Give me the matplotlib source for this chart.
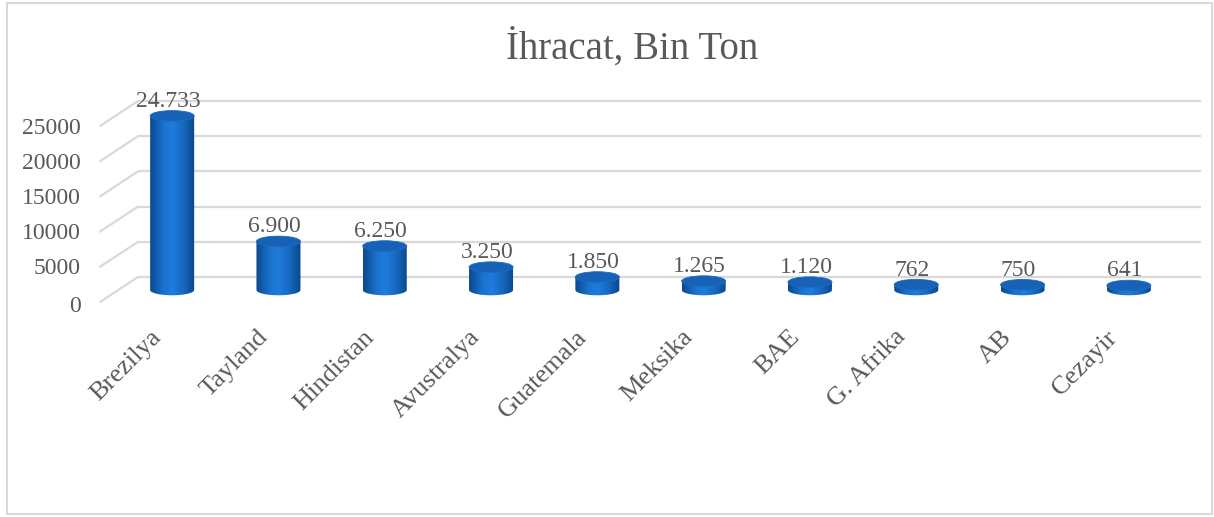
import numpy as np
import matplotlib
matplotlib.use("Agg")
import matplotlib.pyplot as plt
from matplotlib.patches import Ellipse, PathPatch, Rectangle, ConnectionPatch
from matplotlib.path import Path
from matplotlib.transforms import offset_copy
from matplotlib.colors import to_rgb

# data
countries = ["Brezilya", "Tayland", "Hindistan", "Avustralya", "Guatemala",
             "Meksika", "BAE", "G. Afrika", "AB", "Cezayir"]
export = [24733, 6900, 6250, 3250, 1850, 1265, 1120, 762, 750, 641]
value_labels = ["24.733", "6.900", "6.250", "3.250", "1.850",
                "1.265", "1.120", "762", "750", "641"]
yticks = [0, 5000, 10000, 15000, 20000, 25000]

TEXT = "#595959"
GRID = "#d9d9d9"
FONT = "Liberation Serif"

W, H = 1214, 517
fig = plt.figure(figsize=(W / 100, H / 100), dpi=100)
fig.patch.set_facecolor("white")

# chart area border
fig.add_artist(Rectangle((7 / W, 3 / H), 1205 / W, 511 / H, transform=fig.transFigure,
                         fill=False, edgecolor="#d9d9d9", lw=1.5))

# bar plane: x=-0.5 -> px 119, x=9.5 -> px 1182 ; y=0 -> px 290, 25000 -> px 114
ymin, ymax = -1000, 25000
ppu = 176 / 25000
bottom_px = 290 + (-ymin) * ppu
ax = fig.add_axes([119 / W, (H - bottom_px) / H, 1063 / W, (bottom_px - 114) / H])
ax.set_xlim(-0.5, 9.5)
ax.set_ylim(ymin, ymax)
ax.axis("off")

# fake 3d: back wall and front edge are shifted copies of the data plane
back = offset_copy(ax.transData, fig=fig, x=19, y=13, units="dots")
front = offset_copy(ax.transData, fig=fig, x=-19, y=-12, units="dots")

for t in yticks:
    ax.plot([-0.5, 9.5], [t, t], transform=back, color=GRID, lw=1.6,
            clip_on=False, zorder=0, solid_capstyle="butt")
    cp = ConnectionPatch(xyA=(-0.5, t), coordsA=front, xyB=(-0.5, t), coordsB=back,
                         color=GRID, lw=1.6, zorder=0)
    fig.add_artist(cp)
    lab_tr = offset_copy(ax.transData, fig=fig, x=-38, y=-17 if t == 0 else -14, units="dots")
    ax.text(-0.5, t, str(t), transform=lab_tr, ha="right", va="center",
            fontsize=17, color=TEXT, family=FONT)

# cylinders
bw = 0.414
eh = 1500
stops = [0.0, 0.3, 0.5, 0.75, 1.0]
cols = ["#0b4a90", "#1a72cc", "#1f7cdc", "#1668c0", "#0a4789"]
xs = np.linspace(0, 1, 64)
grad = np.stack([np.interp(xs, stops, [to_rgb(c)[k] for c in cols]) for k in range(3)], axis=-1)
grad = grad[np.newaxis, :, :]

th = np.linspace(np.pi, 2 * np.pi, 40)
for i, v in enumerate(export):
    x0, x1 = i - bw / 2, i + bw / 2
    verts = [(x0, v)] + [(i + bw / 2 * np.cos(a), eh / 2 * np.sin(a)) for a in th] + [(x1, v), (x0, v)]
    codes = [Path.MOVETO] + [Path.LINETO] * (len(verts) - 2) + [Path.CLOSEPOLY]
    side = PathPatch(Path(verts, codes), facecolor="none", edgecolor="none", transform=ax.transData)
    ax.add_patch(side)
    im = ax.imshow(grad, extent=(x0, x1, -eh, v), aspect="auto", zorder=2)
    im.set_clip_path(side)
    ax.add_patch(Ellipse((i, v), bw, eh, facecolor="#1762b6", edgecolor="#1a6cc4",
                         lw=0.6, zorder=3, clip_on=False))
    lbl_tr = offset_copy(ax.transData, fig=fig, x=-4, y=9, units="dots")
    ax.text(i, v, value_labels[i], transform=lbl_tr, ha="center", va="baseline",
            fontsize=17, color=TEXT, family=FONT, zorder=4)

# category labels on the front edge
cat_tr = offset_copy(ax.transData, fig=fig, x=-22, y=-36, units="dots")
for i, name in enumerate(countries):
    ax.text(i, 0, name, transform=cat_tr, rotation=45,
            rotation_mode="anchor", ha="right", va="top", fontsize=19,
            color=TEXT, family=FONT)

ax.set_xlim(-0.5, 9.5)
ax.set_ylim(ymin, ymax)

fig.text(632 / W, 1 - 48 / H, "İhracat, Bin Ton", ha="center", va="center",
         fontsize=28, color=TEXT, family=FONT)

fig.savefig("out.png", dpi=100)
